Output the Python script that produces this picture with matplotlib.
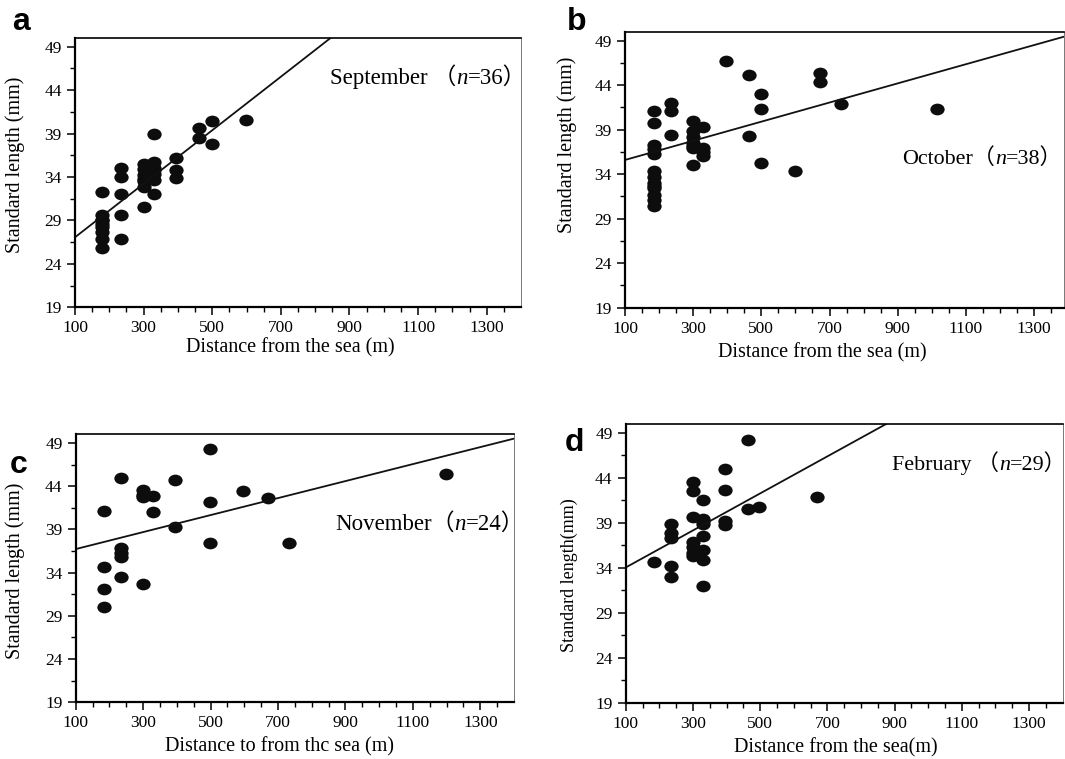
import matplotlib.pyplot as plt
import numpy as np
from matplotlib.path import Path

### Data ###
# September (panel a)
sep_x = [180, 180, 180, 180, 180, 180, 180, 180,
         233, 233, 233, 233, 233,
         300, 300, 300, 300, 300, 300, 300,
         330, 330, 330, 330, 330, 330, 330,
         395, 395, 395, 460, 460, 498, 498, 598, 180]
sep_y = [32.3, 29.6, 29.0, 28.3, 27.7, 26.9, 25.8, 28.6,
         35.0, 34.0, 32.0, 29.6, 26.9,
         35.5, 34.9, 34.2, 33.5, 32.8, 30.5, 33.8,
         39.0, 35.7, 35.0, 34.3, 33.6, 32.0, 34.8,
         36.2, 34.8, 33.9, 39.6, 38.5, 40.4, 37.8, 40.6, 29.0]
sep_fit = (23.98, 0.0308)   # intercept, slope

# October (panel b)
oct_x = [186] * 13 + [235] * 3 + [300] * 7 + [329] * 4 + \
        [396, 464, 464, 500, 500, 500, 598, 671, 671, 734, 1014]
oct_y = [41.1, 39.8, 37.3, 36.8, 36.3, 34.3, 33.7, 33.0, 32.7, 32.4, 31.7, 31.1, 30.4,
         42.0, 41.1, 38.4,
         40.0, 38.8, 38.2, 37.5, 37.2, 36.9, 35.0,
         39.3, 36.9, 36.5, 36.0,
         46.7, 45.1, 38.3, 43.0, 41.3, 35.3, 34.3, 45.4, 44.3, 41.9, 41.3]
oct_fit = (34.52, 0.01075)

# November (panel c)
nov_x = [184] * 4 + [233] * 5 + [300] * 4 + [330] * 2 + [395] * 2 + [499] * 3 + \
        [597, 670, 733, 1199]
nov_y = [41.1, 34.6, 32.1, 30.0,
         44.9, 36.8, 36.3, 35.8, 33.5,
         43.5, 43.0, 42.7, 32.7,
         42.9, 41.0,
         44.7, 39.3,
         48.3, 42.2, 37.4,
         43.4, 42.6, 37.4, 45.4]
nov_fit = (35.74, 0.00983)

# February (panel d)
feb_x = [184] + [234] * 5 + [299] * 7 + [329] * 8 + [395] * 4 + [463] * 2 + [497, 670]
feb_y = [34.7,
         38.9, 37.9, 37.3, 34.2, 33.0,
         43.6, 42.5, 39.6, 36.9, 36.3, 35.7, 35.3,
         41.6, 39.4, 39.2, 38.9, 37.5, 36.0, 34.9, 32.0,
         45.0, 42.7, 39.2, 38.8,
         48.2, 40.6,
         40.8, 41.9]
feb_fit = (31.98, 0.0206)

x_ticks = [100, 300, 500, 700, 900, 1100, 1300]
y_ticks = [19, 24, 29, 34, 39, 44, 49]

### Style ###
plt.rcParams['font.family'] = ['Liberation Serif', 'Noto Sans CJK SC']
W, H = 1065, 759

# slightly flattened dot, like the scanned figure
circ = Path.unit_circle()
dot = Path(circ.vertices * [1.0, 0.82], circ.codes)

fig = plt.figure(figsize=(W / 100, H / 100), dpi=100)


def px_axes(left, right, top, bottom):
    return fig.add_axes([left / W, 1 - bottom / H, (right - left) / W, (bottom - top) / H])


def panel(ax, xs, ys, fit, xmax, pieces, tpos, tsize, xlabel, xlpos, ylabel, ylpos, ylsize=14.5):
    ax.plot(xs, ys, ls='none', marker=dot, ms=10.3, color='#0d0d0d', mec='none')
    ax.axline((0, fit[0]), slope=fit[1], color='#111111', lw=1.3)
    ax.set_xlim(100, xmax)
    ax.set_ylim(19, 50)
    ax.set_xticks(x_ticks)
    ax.set_xticks(np.arange(150, xmax, 50), minor=True)
    ax.set_yticks(y_ticks)
    ax.set_yticks(np.arange(21.5, 50, 5), minor=True)
    ax.tick_params(which='major', length=6, width=1.1, labelsize=12.5, pad=3.5)
    ax.tick_params(which='minor', length=3.5, width=1.0)
    for s in ['left', 'bottom']:
        ax.spines[s].set_linewidth(1.6)
    ax.spines['top'].set_linewidth(1.2)
    ax.spines['right'].set_linewidth(0.7)
    ax.spines['right'].set_color('#777777')
    ax.set_xlabel(xlabel, fontsize=14.5)
    ax.xaxis.set_label_coords(*xlpos)
    ax.set_ylabel(ylabel, fontsize=ylsize)
    ax.yaxis.set_label_coords(*ylpos)
    # month label: plain + italic n + rest, chained so baselines line up
    t = ax.text(tpos[0], tpos[1], pieces[0], transform=ax.transAxes,
                fontsize=tsize, va='center', ha='left')
    t = ax.annotate('n', xy=(1, 0), xycoords=t, va='bottom', ha='left',
                    fontsize=tsize, style='italic')
    ax.annotate(pieces[1], xy=(1, 0), xycoords=t, va='bottom', ha='left', fontsize=tsize)


ax_a = px_axes(75, 521, 38, 307.3)
ax_b = px_axes(625, 1064, 31.7, 307.7)
ax_c = px_axes(75.7, 514, 434.3, 702.3)
ax_d = px_axes(625.7, 1062.7, 424, 702.7)

panel(ax_a, sep_x, sep_y, sep_fit, 1400, ['September （', '=36）'], (0.572, 0.856), 16.5,
      'Distance from the sea (m)', (0.482, -0.115),
      'Standard length (mm)', (-0.112, 0.528))
panel(ax_b, oct_x, oct_y, oct_fit, 1388, ['October（', '=38）'], (0.632, 0.541), 15.8,
      'Distance from the sea (m)', (0.449, -0.128),
      'Standard length (mm)', (-0.109, 0.589))
panel(ax_c, nov_x, nov_y, nov_fit, 1400, ['November（', '=24）'], (0.592, 0.664), 16.5,
      'Distance to from thc sea (m)', (0.466, -0.128),
      'Standard length (mm)', (-0.116, 0.492))
panel(ax_d, feb_x, feb_y, feb_fit, 1400, ['February （', '=29）'], (0.610, 0.859), 15.8,
      'Distance from the sea(m)', (0.481, -0.126),
      'Standard length(mm)', (-0.109, 0.458), ylsize=13)

# panel letters
for letter, (px, py) in zip('abcd', [(12, 30), (567, 30), (10, 473), (565, 451)]):
    fig.text(px / W, 1 - py / H, letter, fontsize=23, fontweight='bold',
             family='Liberation Sans', va='baseline', ha='left')

plt.savefig('out.png', dpi=100)
